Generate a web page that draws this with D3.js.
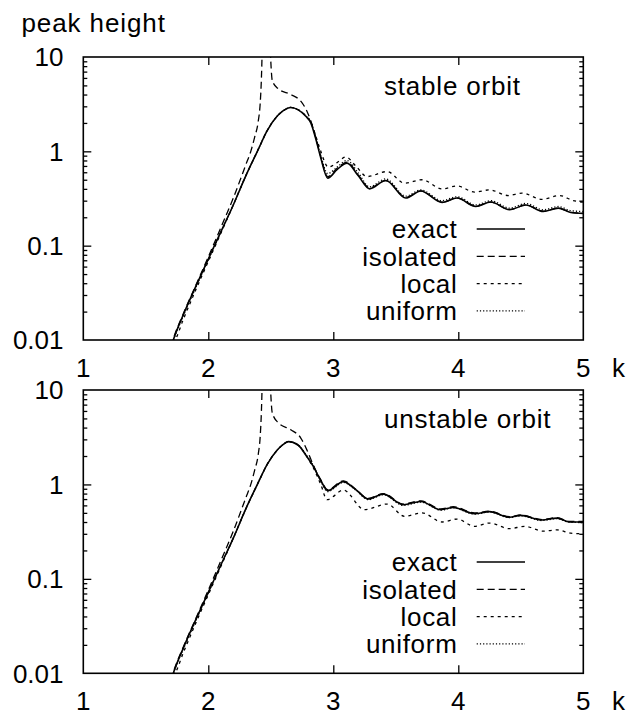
<!DOCTYPE html>
<html>
<head>
<meta charset="utf-8">
<script src="https://cdn.jsdelivr.net/npm/d3@7"></script>
<style>
  html, body { margin: 0; padding: 0; background: #fff; }
  svg { display: block; }
  text { font-family: "Liberation Sans", Arial, Helvetica, sans-serif; fill: #000; }
</style>
</head>
<body>
<svg id="chart" width="632" height="715"></svg>
<script>
// ---------------- data ----------------
const xTicks = [1, 2, 3, 4, 5];
const yTicks = [0.01, 0.1, 1, 10];
const yTickLabels = ["0.01", "0.1", "1", "10"];
const seriesNames = ["exact", "isolated", "local", "uniform"];
const panelTitles = ["stable orbit", "unstable orbit"];

// stable orbit
const kStableExact = [1.70,1.72,1.80,1.90,2.00,2.10,2.20,2.30,2.40,2.47,2.55,2.60,2.66,2.72,2.78,2.82,2.86,2.90,2.955,3.03,3.11,3.20,3.29,3.42,3.58,3.70,3.87,3.99,4.14,4.26,4.41,4.54,4.68,4.80,4.90,5.00];
const vStableExact = [0.0082,0.0100,0.0185,0.037,0.072,0.14,0.27,0.55,1.05,1.65,2.35,2.70,2.92,2.75,2.35,2.0,1.35,0.85,0.52,0.64,0.75,0.55,0.40,0.49,0.32,0.38,0.287,0.32,0.26,0.29,0.24,0.27,0.23,0.25,0.225,0.22];
const kStableIsolated = [1.70,1.72,1.80,1.90,2.00,2.10,2.20,2.30,2.34,2.37,2.40,2.415,2.425,2.435,2.46,2.49,2.50,2.512,2.56,2.66,2.74,2.79,2.82,2.86,2.90,2.955,3.03,3.11,3.20,3.29,3.42,3.58,3.70,3.87,3.99,4.14,4.26,4.41,4.54,4.68,4.80,4.90,5.00];
const vStableIsolated = [0.0085,0.0103,0.019,0.038,0.076,0.155,0.32,0.72,1.0,1.4,2.1,3.2,6,20,null,20,9,5.6,4.6,4.0,3.4,2.65,2.1,1.4,0.88,0.54,0.66,0.77,0.56,0.41,0.49,0.325,0.38,0.29,0.32,0.262,0.29,0.242,0.27,0.232,0.25,0.226,0.22];
const kStableLocal = [1.72,1.735,1.80,1.90,2.00,2.10,2.20,2.30,2.40,2.47,2.55,2.60,2.66,2.72,2.78,2.82,2.86,2.90,2.96,3.03,3.10,3.18,3.27,3.43,3.57,3.71,3.87,3.99,4.13,4.25,4.40,4.51,4.67,4.81,4.92,5.00];
const vStableLocal = [0.0093,0.0100,0.0165,0.034,0.068,0.135,0.27,0.55,1.05,1.65,2.35,2.70,2.92,2.75,2.38,2.05,1.45,1.00,0.68,0.76,0.87,0.70,0.54,0.61,0.46,0.50,0.40,0.43,0.37,0.39,0.34,0.36,0.31,0.34,0.30,0.29];
const kStableUniform = kStableExact;
const vStableUniform = [0.0080,0.0098,0.018,0.036,0.071,0.139,0.27,0.55,1.05,1.65,2.35,2.70,2.92,2.75,2.38,2.05,1.40,0.90,0.58,0.68,0.80,0.59,0.42,0.51,0.335,0.39,0.30,0.33,0.27,0.30,0.25,0.28,0.24,0.26,0.235,0.23];

// unstable orbit
const kUnstableExact = [1.70,1.72,1.80,1.90,2.00,2.10,2.20,2.30,2.40,2.47,2.55,2.60,2.64,2.72,2.78,2.84,2.90,2.955,3.08,3.18,3.28,3.40,3.56,3.70,3.86,3.96,4.13,4.25,4.41,4.50,4.67,4.79,4.89,5.00];
const vUnstableExact = [0.0082,0.0100,0.0185,0.037,0.072,0.14,0.27,0.55,1.05,1.62,2.30,2.65,2.84,2.60,2.05,1.55,1.10,0.86,1.07,0.88,0.70,0.79,0.61,0.66,0.54,0.57,0.49,0.515,0.45,0.47,0.42,0.44,0.40,0.40];
const kUnstableIsolated = [1.70,1.72,1.80,1.90,2.00,2.10,2.20,2.30,2.34,2.37,2.40,2.415,2.425,2.435,2.46,2.49,2.50,2.512,2.56,2.66,2.74,2.79,2.84,2.90,2.955,3.08,3.18,3.28,3.40,3.56,3.70,3.86,3.96,4.13,4.25,4.41,4.50,4.67,4.79,4.89,5.00];
const vUnstableIsolated = [0.0085,0.0103,0.019,0.038,0.076,0.155,0.32,0.72,1.0,1.4,2.1,3.2,6,20,null,20,9,5.7,4.5,3.8,3.1,2.3,1.6,1.12,0.88,1.09,0.89,0.71,0.80,0.62,0.67,0.55,0.58,0.50,0.52,0.455,0.475,0.425,0.445,0.405,0.405];
const kUnstableLocal = [1.72,1.735,1.80,1.90,2.00,2.10,2.20,2.30,2.40,2.47,2.55,2.60,2.64,2.72,2.78,2.84,2.90,2.95,3.08,3.25,3.43,3.57,3.71,3.87,3.99,4.13,4.25,4.41,4.53,4.68,4.79,4.90,5.00];
const vUnstableLocal = [0.0093,0.0100,0.0165,0.034,0.068,0.135,0.27,0.55,1.05,1.62,2.30,2.65,2.84,2.60,2.05,1.50,1.00,0.69,0.87,0.54,0.62,0.46,0.50,0.40,0.43,0.36,0.39,0.34,0.36,0.32,0.33,0.305,0.30];
const kUnstableUniform = kUnstableExact;
const vUnstableUniform = [0.0080,0.0098,0.018,0.036,0.071,0.139,0.27,0.55,1.05,1.62,2.30,2.65,2.84,2.62,2.08,1.58,1.08,0.84,1.05,0.87,0.69,0.78,0.60,0.65,0.535,0.565,0.485,0.51,0.445,0.465,0.415,0.435,0.398,0.395];

// ---------------- layout ----------------
const left = 83.3, right = 583.3;
const panels = [
  { top: 57, bottom: 340, title: panelTitles[0],
    series: [[kStableExact, vStableExact], [kStableIsolated, vStableIsolated], [kStableLocal, vStableLocal], [kStableUniform, vStableUniform]] },
  { top: 390, bottom: 673.3, title: panelTitles[1],
    series: [[kUnstableExact, vUnstableExact], [kUnstableIsolated, vUnstableIsolated], [kUnstableLocal, vUnstableLocal], [kUnstableUniform, vUnstableUniform]] }
];
const dashes = [null, "7,4", "3,4", "1.2,2"];
const FS = 26;

const svg = d3.select("#chart");
const x = d3.scaleLinear().domain([1, 5]).range([left, right]);

svg.append("text").attr("x", 21.5).attr("y", 32).attr("font-size", FS)
  .attr("letter-spacing", 0.9).text("peak height");

panels.forEach((p, pi) => {
  const y = d3.scaleLog().domain([0.01, 10]).range([p.bottom, p.top]);
  const g = svg.append("g");

  const clipId = "clip" + pi;
  svg.append("defs").append("clipPath").attr("id", clipId)
    .append("rect").attr("x", left).attr("y", p.top)
    .attr("width", right - left).attr("height", p.bottom - p.top);

  const minor = [];
  [0.01, 0.1, 1].forEach(d => { for (let m = 2; m <= 9; m++) minor.push(d * m); });

  const axStyle = sel => { sel.select(".domain").remove(); sel.selectAll("text").remove();
    sel.selectAll("line").attr("stroke", "#000").attr("stroke-width", 1.3); };

  g.append("g").attr("transform", `translate(0,${p.bottom})`)
    .call(d3.axisBottom(x).tickValues([2, 3, 4]).tickSizeInner(-8).tickSizeOuter(0)).call(axStyle);
  g.append("g").attr("transform", `translate(0,${p.top})`)
    .call(d3.axisTop(x).tickValues([2, 3, 4]).tickSizeInner(-8).tickSizeOuter(0)).call(axStyle);
  g.append("g").attr("transform", `translate(${left},0)`)
    .call(d3.axisLeft(y).tickValues([0.1, 1]).tickSizeInner(-8).tickSizeOuter(0)).call(axStyle);
  g.append("g").attr("transform", `translate(${right},0)`)
    .call(d3.axisRight(y).tickValues([0.1, 1]).tickSizeInner(-8).tickSizeOuter(0)).call(axStyle);
  g.append("g").attr("transform", `translate(${left},0)`)
    .call(d3.axisLeft(y).tickValues(minor).tickSizeInner(-4).tickSizeOuter(0)).call(axStyle);
  g.append("g").attr("transform", `translate(${right},0)`)
    .call(d3.axisRight(y).tickValues(minor).tickSizeInner(-4).tickSizeOuter(0)).call(axStyle);

  const line = d3.line()
    .defined(d => d.v != null)
    .x(d => x(d.k)).y(d => y(d.v))
    .curve(d3.curveMonotoneX);
  const cg = g.append("g").attr("clip-path", `url(#${clipId})`);
  p.series.forEach(([ks, vs], si) => {
    const data = ks.map((k, i) => ({ k: k, v: vs[i] }));
    cg.append("path").datum(data).attr("d", line)
      .attr("fill", "none").attr("stroke", "#000")
      .attr("stroke-width", si === 0 ? 1.6 : 1.3)
      .attr("stroke-dasharray", dashes[si]);
  });

  g.append("rect").attr("x", left).attr("y", p.top)
    .attr("width", right - left).attr("height", p.bottom - p.top)
    .attr("fill", "none").attr("stroke", "#000").attr("stroke-width", 1.6);

  yTicks.forEach((t, i) => {
    g.append("text").attr("x", 63.5).attr("y", y(t) + 9.4)
      .attr("text-anchor", "end").attr("font-size", FS).text(yTickLabels[i]);
  });
  xTicks.forEach(t => {
    g.append("text").attr("x", x(t)).attr("y", p.bottom + 37)
      .attr("text-anchor", "middle").attr("font-size", FS).text(t);
  });
  g.append("text").attr("x", 612).attr("y", p.bottom + 37).attr("font-size", FS).text("k");

  g.append("text").attr("x", 384).attr("y", p.top + 38).attr("font-size", FS)
    .attr("letter-spacing", 0.8).text(p.title);

  seriesNames.forEach((name, si) => {
    const by = p.top + 181.3 + si * 27.3;
    g.append("text").attr("x", 457.5).attr("y", by).attr("text-anchor", "end")
      .attr("font-size", FS).attr("letter-spacing", 0.7).text(name);
    g.append("line").attr("x1", 476.7).attr("x2", 525).attr("y1", by - 9.3).attr("y2", by - 9.3)
      .attr("stroke", "#000").attr("stroke-width", si === 0 ? 1.6 : 1.3)
      .attr("stroke-dasharray", dashes[si]);
  });
});
</script>
</body>
</html>
